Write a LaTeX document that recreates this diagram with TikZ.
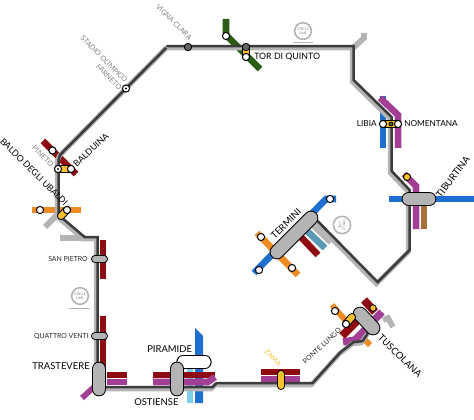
\documentclass[tikz,border=0pt]{standalone}
\usepackage{fontspec}
\setmainfont{Lato}
\definecolor{mred}{HTML}{8E0B12}
\definecolor{mpur}{HTML}{A23F95}
\definecolor{mblu}{HTML}{1E6FD0}
\definecolor{mora}{HTML}{EE8B22}
\definecolor{mgrn}{HTML}{2A5E16}
\definecolor{mbrn}{HTML}{A5703A}
\definecolor{mgry}{HTML}{B4B4B4}
\definecolor{mdrk}{HTML}{3C3C3C}
\definecolor{myel}{HTML}{FBC02D}
\definecolor{mtea}{HTML}{5B9AB5}
\definecolor{mlbl}{HTML}{7FCDEB}
\tikzset{
 stub/.style={line width=5pt,line join=miter},
 gstub/.style={line width=4.3pt,color=mgry,line join=miter},
 trackw/.style={line width=5pt,color=white,line join=miter},
 trackg/.style={line width=3.6pt,color=mgry,line join=miter},
 trackd/.style={line width=1.9pt,color=mdrk,line join=miter},
 wdot/.style={circle,draw=black,fill=white,line width=.75pt,inner sep=0pt,minimum size=5.4pt},
 bull/.style={circle,draw=black,fill=white,line width=.75pt,inner sep=0pt,minimum size=5.4pt,path picture={\fill[black] (path picture bounding box.center) circle (.9pt);}},
 ddot/.style={circle,draw=black,fill=mdrk!80,line width=.6pt,inner sep=0pt,minimum size=5.6pt},
 ydot/.style={circle,draw=black,fill=myel,line width=.75pt,inner sep=0pt,minimum size=5.4pt},
 lab/.style={font=\fontsize{7.1pt}{8pt}\selectfont,text=black,inner sep=0pt},
 mlab/.style={font=\fontsize{6.6pt}{8pt}\selectfont,text=black,inner sep=0pt},
 slab/.style={font=\fontsize{5.2pt}{6pt}\selectfont,text=black!85,inner sep=0pt},
 glab/.style={font=\fontsize{5.4pt}{6pt}\selectfont,text=gray,inner sep=0pt},
 logo/.style={circle,draw=mgry,line width=1.2pt,minimum size=12.5pt,inner sep=0pt,font=\fontsize{2.6pt}{3pt}\selectfont,text=gray,align=center},
}
\newcommand\pillb[4]{% from, to, fill, thickness in pt
 \draw[black,line width=#4+1.5pt,line cap=round] #1 -- #2;
 \draw[#3,line width=#4,line cap=round] #1 -- #2;}
\begin{document}
\begin{tikzpicture}[x=.75pt,y=-.75pt]
\useasboundingbox (0,0) rectangle (474,420);
% coloured stubs
\draw[stub,mred] (43,141) -- (76,174);
\draw[stub,mora] (32,210) -- (81,210);
\draw[gstub] (45,227) -- (60,212);
\draw[gstub] (60,238) -- (84,238);
\draw[stub,mred] (103,240) -- (103,279);
\draw[stub,mred] (103,316) -- (103,385);
\draw[stub,mgrn] (226,19) -- (226,35) -- (260,69);
\draw[gstub] (353,48) -- (364,38) -- (364,33);
\draw[stub,mblu] (383,96) -- (383,148);
\draw[stub,mpur] (380,98) -- (398,115) -- (398,148);
\draw[stub,mpur] (404,174) -- (416,186) -- (416,229);
\draw[stub,mbrn] (424,205) -- (424,229);
\draw[stub,mblu] (389,199) -- (474,199);
% termini
\draw[stub,mblu] (254,273) -- (326,199) -- (336,199);
\draw[stub,mora] (257,233) -- (298,275);
\draw[stub,mred] (300,236) -- (318,255);
\draw[stub,mtea] (306,230) -- (325,248);
\draw[stub,mgry] (312,224) -- (331,242);
% bottom left
\draw[stub,mred] (107,375) -- (127,375);
\draw[stub,mpur] (107,382) -- (127,382);
\draw[gstub,mpur] (82,398) -- (94,387);
\draw[stub,mlbl] (190,368) -- (190,403);
\fill[mblu] (195,328) -- (203,336) -- (203,403) -- (195,403) -- cycle;
\draw[stub,mred] (153,375) -- (215,375);
\draw[stub,mpur] (153,382) -- (208,382) -- (215,377);
% zama
\draw[stub,mred,line width=4pt] (261,372) -- (300,372);
\draw[stub,mpur,line width=4pt] (261,379) -- (300,379);
% tuscolana stubs
\draw[gstub,mora] (332,305) -- (345,320);
\draw[gstub,mora] (365,340) -- (370,345);
\draw[stub,mred,line width=6pt] (342,336) -- (358,320);
\draw[stub,mpur,line width=5.5pt] (343,342) -- (355,340) -- (382,312);
\draw[stub,mred,line width=6pt] (364,300) -- (375,312);
\draw[gstub] (383,320) -- (388,318) -- (393,327);
% track
\draw[trackw] (317,222) -- (377,283) -- (409,251) -- (409,191) -- (391,172) -- (391,118) -- (353,81);
\foreach \s/\dx/\dy in {trackg/-.5/-.7,trackd/.5/.7}{
\draw[\s,xshift=\dx,yshift=\dy] (317,222) -- (377,283) -- (409,251) -- (409,191) -- (391,172) -- (391,118) -- (353,81) -- (353,47) -- (167,47) -- (60,155) -- (58,160) -- (58,216) -- (84,238) -- (97,238) -- (97,388) -- (212,388) -- (216,384) -- (312,384) -- (340,353) -- (353,343) -- (362,342) -- (368,333);
}
\draw[trackg] (167,47) -- (60,155);
\draw[trackd,xshift=-.55pt,yshift=-.55pt] (167,47) -- (60,155);
% stations
\pillb{(409,199)}{(429,199)}{mgry}{9.5pt}
\pillb{(277,252)}{(311,218)}{mgry}{9.5pt}
\pillb{(95,259)}{(104,259)}{mgry}{4.5pt}
\pillb{(95,336)}{(104,336)}{mgry}{4.5pt}
\pillb{(99,369)}{(99,389)}{mgry}{9.5pt}
\pillb{(183,362)}{(205,362)}{white}{8.5pt}
\pillb{(177,369)}{(177,389)}{mgry}{9.5pt}
\pillb{(281,374)}{(281,386)}{myel}{4.5pt}
\pillb{(360,314)}{(373,328)}{mgry}{9.5pt}
\pillb{(58,169)}{(71,169)}{myel}{4.5pt}
\pillb{(61,216)}{(67,210)}{myel}{4.5pt}
\pillb{(246,47)}{(246,57)}{myel}{4pt}
\pillb{(383,124)}{(398,124)}{myel}{4pt}
\pillb{(346,324)}{(352,317)}{myel}{4.5pt}
\pillb{(373,308)}{(373,308)}{myel}{4pt}
\node[ddot] (vc) at (188,47) {};
\node[bull] (so) at (126,88.5) {};
\node[wdot] (ba) at (52.5,150.5) {};
\node[bull] (pi) at (58,169) {};
\node[wdot] (bd) at (71,169) {};
\node[wdot] (bu1) at (40,210) {};
\node[wdot] (bu2) at (67,210) {};
\node[wdot] (vg) at (226,36) {};
\node[ddot] (tq1) at (246,47) {};
\node[wdot] (tq2) at (246,57) {};
\node[wdot] (li) at (383,124) {};
\node[ddot,minimum size=3pt] (li2) at (391,124) {};
\node[wdot] (no) at (398,124) {};
\node[ydot] (ty) at (407,177) {};
\node[wdot] (t1) at (261,237) {};
\node[wdot] (t2) at (292,268) {};
\node[wdot] (t3) at (259,270) {};
\node[wdot] (t4) at (330,199) {};
\node[wdot] (p1) at (335,311) {};
\node[wdot] (p2) at (346,324) {};
% logos
\node[logo] (c1) at (303,31) {CIRCLE\\LINE};
\draw[mgry,line width=.6pt] (293,42) -- (313,42);
\node[logo,rotate=-90,minimum size=13pt] (c2) at (342,225) {CIRCLE\\LINE};
\node[logo] (c3) at (80,296) {CIRCLE\\LINE};
\draw[mgry,line width=.6pt] (69,308) -- (90,308);
% labels
\node[glab,rotate=-45] (lvc) at (174,22) {VIGNA CLARA};
\node[glab,rotate=-45] (lso) at (104,59) {STADIO OLIMPICO};
\node[glab,rotate=-45] (lfa) at (109,77) {FARNETO};
\node[glab,rotate=-45,font=\fontsize{5.6pt}{6pt}\selectfont] (lpi) at (43,156) {PINETO};
\node[mlab,rotate=43] (lba) at (91,150) {BALDUINA};
\node[mlab,rotate=-45] (lbd) at (34,172) {BALDO DEGLI UBALDI};
\node[mlab,anchor=west] (ltq) at (254,57) {TOR DI QUINTO};
\node[mlab,anchor=east,font=\fontsize{6.2pt}{8pt}\selectfont] (lli) at (377,124) {LIBIA};
\node[mlab,anchor=west,font=\fontsize{6.2pt}{8pt}\selectfont] (lno) at (404,124) {NOMENTANA};
\node[lab,rotate=53] (lti) at (453,177) {TIBURTINA};
\node[lab,rotate=45] (lte) at (286,224) {TERMINI};
\node[slab,anchor=east] (lsp) at (88,259) {SAN PIETRO};
\node[slab,anchor=east] (lqv) at (89,336) {QUATTRO VENTI};
\node[lab,anchor=east] (ltr) at (90,366) {TRASTEVERE};
\node[lab,anchor=west] (lpm) at (147,349) {PIRAMIDE};
\node[lab,anchor=west] (los) at (134,402) {OSTIENSE};
\node[slab,rotate=-45,text=myel] (lza) at (273,358) {ZAMA};
\node[slab,rotate=43] (lpl) at (322,346) {PONTE LUNGO};
\node[lab,rotate=-44] (ltu) at (400,356) {TUSCOLANA};
\end{tikzpicture}
\end{document}
